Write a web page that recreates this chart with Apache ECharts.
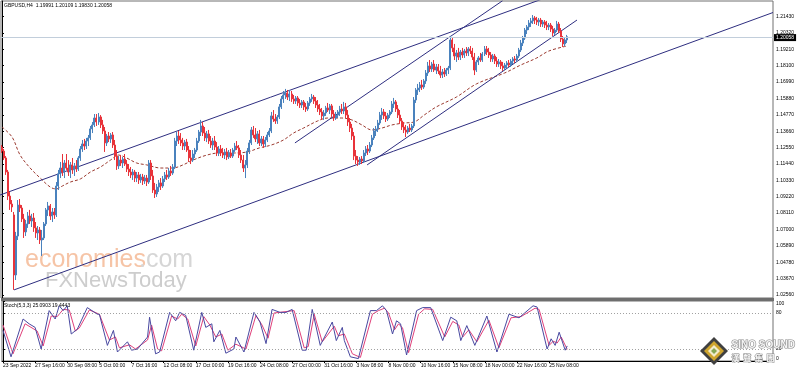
<!DOCTYPE html>
<html><head><meta charset="utf-8">
<script src="https://cdn.jsdelivr.net/npm/echarts@6/dist/echarts.min.js"></script>
<style>html,body{margin:0;padding:0;background:#fff}#c{width:798px;height:372px}</style>
</head><body><div id="c"></div>
<script>
// ---- data (GBPUSD H4) ----
const timeLabels = ['23 Sep 2022','27 Sep 16:00','30 Sep 08:00','5 Oct 00:00','7 Oct 16:00','12 Oct 08:00','17 Oct 00:00','19 Oct 16:00','24 Oct 08:00','27 Oct 00:00','31 Oct 16:00','3 Nov 08:00','8 Nov 00:00','10 Nov 16:00','15 Nov 08:00','18 Nov 00:00','22 Nov 16:00','25 Nov 08:00'];
const priceTicks = [1.02560,1.03670,1.04780,1.05890,1.07000,1.08110,1.09220,1.10330,1.11440,1.12550,1.13660,1.14770,1.15880,1.16990,1.18100,1.19210,1.20320,1.21430];
const stochTicks = [0,20,80,100];
const stochLevels = [20,80];
const bidPrice = 1.20058;

const open = [
1.1258,1.1231,1.1184,1.1089,1.0926,1.0872,1.0798,1.0391,1.0655,1.0865,
1.0845,1.0771,1.0683,1.0737,1.0791,1.0757,1.0777,1.0710,1.0676,1.0696,
1.0628,1.0642,1.0737,1.0832,1.0859,1.0791,1.0818,1.0798,1.0994,1.1076,
1.1116,1.1089,1.1150,1.1116,1.1089,1.1137,1.1103,1.1130,1.1109,1.1184,
1.1245,1.1279,1.1265,1.1299,1.1320,1.1381,1.1408,1.1455,1.1428,1.1462,
1.1408,1.1367,1.1286,1.1333,1.1313,1.1340,1.1272,1.1197,1.1130,1.1170,
1.1150,1.1177,1.1143,1.1109,1.1089,1.1069,1.1089,1.1048,1.1069,1.1035,
1.1055,1.1028,1.1048,1.1021,1.1150,1.1062,1.0967,1.0940,1.0987,1.1015,
1.0994,1.1042,1.1069,1.1055,1.1096,1.1082,1.1123,1.1299,1.1333,1.1306,
1.1286,1.1265,1.1292,1.1238,1.1184,1.1170,1.1211,1.1238,1.1299,1.1360,
1.1401,1.1353,1.1320,1.1347,1.1299,1.1272,1.1299,1.1258,1.1218,1.1245,
1.1218,1.1204,1.1225,1.1191,1.1218,1.1197,1.1238,1.1265,1.1252,1.1204,
1.1170,1.1116,1.1137,1.1231,1.1286,1.1374,1.1340,1.1313,1.1347,1.1286,
1.1313,1.1279,1.1306,1.1340,1.1367,1.1469,1.1448,1.1435,1.1462,1.1530,
1.1584,1.1611,1.1625,1.1597,1.1618,1.1584,1.1570,1.1591,1.1557,1.1543,
1.1564,1.1530,1.1516,1.1557,1.1584,1.1597,1.1570,1.1543,1.1516,1.1496,
1.1469,1.1489,1.1523,1.1509,1.1537,1.1482,1.1455,1.1475,1.1496,1.1516,
1.1503,1.1530,1.1475,1.1428,1.1387,1.1333,1.1197,1.1170,1.1157,1.1177,
1.1164,1.1218,1.1245,1.1231,1.1272,1.1320,1.1367,1.1381,1.1421,1.1475,
1.1496,1.1469,1.1448,1.1475,1.1496,1.1550,1.1564,1.1516,1.1475,1.1435,
1.1394,1.1374,1.1360,1.1387,1.1374,1.1401,1.1577,1.1645,1.1658,1.1679,
1.1665,1.1706,1.1760,1.1808,1.1787,1.1821,1.1780,1.1801,1.1774,1.1746,
1.1767,1.1753,1.1780,1.1794,1.1984,1.1930,1.1875,1.1896,1.1868,1.1902,
1.1882,1.1909,1.1896,1.1923,1.1909,1.1868,1.1780,1.1835,1.1862,1.1848,
1.1889,1.1923,1.1902,1.1882,1.1855,1.1875,1.1841,1.1821,1.1835,1.1808,
1.1794,1.1814,1.1828,1.1814,1.1841,1.1855,1.1848,1.1875,1.1916,1.1963,
1.1997,1.2051,1.2072,1.2099,1.2113,1.2133,1.2119,1.2106,1.2119,1.2092,
1.2106,1.2085,1.2072,1.2085,1.2058,1.2031,1.2051,1.2092,1.2045,1.1990,
1.1957,1.1984];
const high = [
1.1272,1.1245,1.1197,1.1103,1.0954,1.0899,1.0818,1.0683,1.0899,1.0906,
1.0865,1.0805,1.0764,1.0818,1.0832,1.0805,1.0811,1.0750,1.0723,1.0716,
1.0696,1.0750,1.0845,1.0886,1.0872,1.0845,1.0845,1.1021,1.1103,1.1157,
1.1211,1.1170,1.1211,1.1170,1.1157,1.1184,1.1150,1.1170,1.1197,1.1265,
1.1306,1.1313,1.1320,1.1340,1.1401,1.1428,1.1482,1.1482,1.1489,1.1475,
1.1442,1.1394,1.1347,1.1360,1.1353,1.1360,1.1306,1.1238,1.1197,1.1204,
1.1191,1.1211,1.1170,1.1143,1.1123,1.1109,1.1103,1.1089,1.1089,1.1076,
1.1076,1.1069,1.1069,1.1170,1.1170,1.1103,1.1015,1.1008,1.1035,1.1048,
1.1062,1.1089,1.1103,1.1116,1.1130,1.1143,1.1320,1.1360,1.1367,1.1353,
1.1320,1.1306,1.1313,1.1265,1.1238,1.1238,1.1252,1.1320,1.1374,1.1442,
1.1428,1.1394,1.1367,1.1374,1.1333,1.1320,1.1333,1.1292,1.1265,1.1272,
1.1252,1.1245,1.1252,1.1238,1.1245,1.1252,1.1286,1.1299,1.1272,1.1238,
1.1204,1.1170,1.1252,1.1306,1.1394,1.1401,1.1387,1.1367,1.1374,1.1333,
1.1333,1.1326,1.1360,1.1387,1.1496,1.1509,1.1482,1.1475,1.1550,1.1604,
1.1638,1.1652,1.1645,1.1645,1.1638,1.1611,1.1604,1.1604,1.1584,1.1577,
1.1577,1.1557,1.1570,1.1597,1.1618,1.1611,1.1597,1.1577,1.1550,1.1523,
1.1509,1.1537,1.1557,1.1550,1.1550,1.1509,1.1496,1.1509,1.1537,1.1550,
1.1564,1.1557,1.1509,1.1455,1.1415,1.1360,1.1238,1.1197,1.1191,1.1197,
1.1238,1.1265,1.1272,1.1292,1.1340,1.1387,1.1401,1.1442,1.1496,1.1523,
1.1516,1.1496,1.1489,1.1509,1.1570,1.1591,1.1577,1.1543,1.1509,1.1455,
1.1428,1.1408,1.1401,1.1415,1.1415,1.1597,1.1658,1.1686,1.1699,1.1713,
1.1719,1.1780,1.1835,1.1848,1.1835,1.1848,1.1821,1.1821,1.1808,1.1787,
1.1794,1.1794,1.1808,1.2011,1.1997,1.1957,1.1916,1.1930,1.1916,1.1930,
1.1923,1.1936,1.1936,1.1943,1.1930,1.1896,1.1848,1.1875,1.1896,1.1902,
1.1943,1.1943,1.1930,1.1902,1.1889,1.1889,1.1868,1.1855,1.1848,1.1835,
1.1828,1.1841,1.1848,1.1855,1.1868,1.1875,1.1889,1.1930,1.1984,1.2011,
1.2065,1.2085,1.2119,1.2133,1.2153,1.2146,1.2140,1.2133,1.2133,1.2119,
1.2119,1.2113,1.2099,1.2099,1.2079,1.2065,1.2113,1.2106,1.2065,1.2011,
1.1997,1.2018];
const low = [
1.1218,1.1170,1.1069,1.0899,1.0832,1.0818,1.0290,1.0357,1.0628,1.0818,
1.0750,1.0642,1.0655,1.0710,1.0737,1.0716,1.0683,1.0642,1.0628,1.0601,
1.0520,1.0628,1.0723,1.0791,1.0764,1.0750,1.0771,1.0784,1.0967,1.1048,
1.1062,1.1048,1.1103,1.1062,1.1048,1.1076,1.1062,1.1089,1.1096,1.1164,
1.1225,1.1238,1.1245,1.1265,1.1306,1.1353,1.1394,1.1401,1.1408,1.1387,
1.1347,1.1225,1.1265,1.1292,1.1286,1.1252,1.1170,1.1103,1.1109,1.1130,
1.1116,1.1130,1.1089,1.1062,1.1048,1.1035,1.1021,1.1021,1.1008,1.1015,
1.1001,1.1008,1.0994,1.1008,1.1035,1.0947,1.0913,1.0920,1.0954,1.0967,
1.0981,1.1021,1.1035,1.1042,1.1062,1.1069,1.1109,1.1265,1.1279,1.1265,
1.1238,1.1238,1.1225,1.1157,1.1143,1.1157,1.1184,1.1225,1.1286,1.1333,
1.1333,1.1299,1.1292,1.1279,1.1252,1.1238,1.1238,1.1197,1.1197,1.1197,
1.1184,1.1177,1.1170,1.1177,1.1184,1.1184,1.1225,1.1238,1.1184,1.1150,
1.1089,1.1048,1.1116,1.1211,1.1272,1.1320,1.1292,1.1279,1.1265,1.1265,
1.1252,1.1258,1.1292,1.1326,1.1353,1.1428,1.1415,1.1415,1.1448,1.1516,
1.1557,1.1584,1.1577,1.1570,1.1564,1.1550,1.1550,1.1537,1.1523,1.1523,
1.1509,1.1496,1.1503,1.1537,1.1564,1.1550,1.1523,1.1496,1.1475,1.1442,
1.1442,1.1469,1.1496,1.1482,1.1462,1.1435,1.1442,1.1455,1.1469,1.1482,
1.1482,1.1455,1.1401,1.1360,1.1306,1.1170,1.1143,1.1130,1.1137,1.1143,
1.1150,1.1197,1.1204,1.1218,1.1258,1.1306,1.1333,1.1360,1.1408,1.1442,
1.1448,1.1428,1.1435,1.1455,1.1482,1.1523,1.1496,1.1455,1.1415,1.1374,
1.1353,1.1326,1.1347,1.1360,1.1360,1.1387,1.1557,1.1611,1.1631,1.1645,
1.1652,1.1686,1.1740,1.1767,1.1767,1.1767,1.1753,1.1753,1.1726,1.1726,
1.1733,1.1740,1.1753,1.1780,1.1902,1.1848,1.1835,1.1848,1.1848,1.1862,
1.1862,1.1875,1.1875,1.1889,1.1848,1.1746,1.1767,1.1814,1.1835,1.1835,
1.1875,1.1882,1.1862,1.1835,1.1835,1.1821,1.1801,1.1801,1.1787,1.1774,
1.1780,1.1794,1.1801,1.1801,1.1821,1.1828,1.1835,1.1862,1.1902,1.1943,
1.1984,1.2024,1.2051,1.2072,1.2092,1.2092,1.2085,1.2079,1.2072,1.2072,
1.2065,1.2051,1.2051,1.2038,1.2011,1.2018,1.2038,1.2031,1.1970,1.1936,
1.1943,1.1963];
const close = [
1.1231,1.1184,1.1089,1.0926,1.0872,1.0852,1.0391,1.0655,1.0865,1.0845,
1.0771,1.0683,1.0737,1.0791,1.0757,1.0777,1.0710,1.0676,1.0696,1.0628,
1.0642,1.0737,1.0832,1.0859,1.0791,1.0818,1.0798,1.0994,1.1076,1.1116,
1.1089,1.1150,1.1116,1.1089,1.1137,1.1103,1.1130,1.1109,1.1184,1.1245,
1.1279,1.1265,1.1299,1.1320,1.1381,1.1408,1.1455,1.1428,1.1462,1.1408,
1.1367,1.1286,1.1333,1.1313,1.1340,1.1272,1.1197,1.1130,1.1170,1.1150,
1.1177,1.1143,1.1109,1.1089,1.1069,1.1089,1.1048,1.1069,1.1035,1.1055,
1.1028,1.1048,1.1021,1.1150,1.1062,1.0967,1.0940,1.0987,1.1015,1.0994,
1.1042,1.1069,1.1055,1.1096,1.1082,1.1123,1.1299,1.1333,1.1306,1.1286,
1.1265,1.1292,1.1238,1.1184,1.1170,1.1211,1.1238,1.1299,1.1360,1.1401,
1.1353,1.1320,1.1347,1.1299,1.1272,1.1299,1.1258,1.1218,1.1245,1.1218,
1.1204,1.1225,1.1191,1.1218,1.1197,1.1238,1.1265,1.1252,1.1204,1.1170,
1.1116,1.1137,1.1231,1.1286,1.1374,1.1340,1.1313,1.1347,1.1286,1.1313,
1.1279,1.1306,1.1340,1.1367,1.1469,1.1448,1.1435,1.1462,1.1530,1.1584,
1.1611,1.1625,1.1597,1.1618,1.1584,1.1570,1.1591,1.1557,1.1543,1.1564,
1.1530,1.1516,1.1557,1.1584,1.1597,1.1570,1.1543,1.1516,1.1496,1.1469,
1.1489,1.1523,1.1509,1.1537,1.1482,1.1455,1.1475,1.1496,1.1516,1.1503,
1.1530,1.1475,1.1428,1.1387,1.1333,1.1197,1.1170,1.1157,1.1177,1.1164,
1.1218,1.1245,1.1231,1.1272,1.1320,1.1367,1.1381,1.1421,1.1475,1.1496,
1.1469,1.1448,1.1475,1.1496,1.1550,1.1564,1.1516,1.1475,1.1435,1.1394,
1.1374,1.1360,1.1387,1.1374,1.1401,1.1577,1.1645,1.1658,1.1679,1.1665,
1.1706,1.1760,1.1808,1.1787,1.1821,1.1780,1.1801,1.1774,1.1746,1.1767,
1.1753,1.1780,1.1794,1.1984,1.1930,1.1875,1.1896,1.1868,1.1902,1.1882,
1.1909,1.1896,1.1923,1.1909,1.1868,1.1780,1.1835,1.1862,1.1848,1.1889,
1.1923,1.1902,1.1882,1.1855,1.1875,1.1841,1.1821,1.1835,1.1808,1.1794,
1.1814,1.1828,1.1814,1.1841,1.1855,1.1848,1.1875,1.1916,1.1963,1.1997,
1.2051,1.2072,1.2099,1.2113,1.2133,1.2119,1.2106,1.2119,1.2092,1.2106,
1.2085,1.2072,1.2085,1.2058,1.2031,1.2051,1.2092,1.2045,1.1990,1.1957,
1.1984,1.2006];

// moving average, read at [bar index, price]
const maLine = [[0,1.1394],[5,1.1326],[9,1.1204],[14,1.1116],[19,1.1048],[24,1.0987],[27,1.0974],[30,1.0994],[34,1.1021],[39,1.1042],[44,1.1089],[49,1.1123],[54,1.1170],[58,1.1204],[62,1.1184],[67,1.1150],[72,1.1137],[79,1.1116],[85,1.1116],[90,1.1137],[95,1.1170],[102,1.1204],[108,1.1218],[115,1.1218],[122,1.1225],[128,1.1252],[134,1.1272],[140,1.1306],[145,1.1353],[150,1.1387],[157,1.1435],[162,1.1455],[169,1.1455],[174,1.1442],[179,1.1408],[184,1.1374],[189,1.1387],[194,1.1408],[200,1.1421],[205,1.1428],[210,1.1475],[216,1.1530],[226,1.1597],[236,1.1686],[250,1.1760],[258,1.1814],[266,1.1862],[272,1.1909],[281,1.1943]];

// trend lines [bar index, price]
const upperChannel = [[-1,1.0933],[268,1.2258]];
const lowerChannel = [[6,1.0290],[383.5,1.2170]];
const steepUpper = [[145.7,1.1286],[249,1.2250]];
const steepLower = [[181.6,1.1137],[286,1.2119]];

// Stochastic (5,3,3) turning points [bar index, value]
const stochK = [[0,51],[4,7],[10,70],[13,62],[16,56],[19,20],[23,84],[26,70],[28,92],[30,84],[32,92],[34,45],[37,53],[42,89],[47,78],[48,78],[52,26],[55,51],[57,15],[62,32],[64,18],[67,20],[72,40],[73,73],[76,12],[78,15],[83,81],[86,67],[88,81],[91,76],[95,18],[99,81],[101,56],[104,62],[105,32],[108,51],[111,13],[115,20],[116,40],[120,15],[125,81],[128,65],[131,29],[134,86],[138,81],[141,81],[144,86],[149,18],[151,18],[154,86],[158,26],[164,65],[166,34],[169,56],[170,34],[173,7],[177,4],[183,84],[186,84],[189,92],[191,84],[194,45],[196,67],[198,62],[201,10],[206,84],[209,89],[213,89],[219,34],[223,73],[226,67],[228,34],[231,59],[235,26],[241,75],[246,15],[252,78],[257,72],[264,92],[266,90],[271,20],[273,37],[275,26],[277,48],[280,18],[281,25.09]];
const stochD = [[0,60],[5,12],[11,62],[17,50],[20,25],[24,75],[27,74],[30,86],[33,85],[36,50],[38,55],[43,85],[48,78],[53,35],[56,40],[58,22],[63,27],[66,20],[72,35],[74,60],[77,20],[79,17],[84,75],[87,70],[89,78],[92,70],[96,25],[100,74],[103,60],[106,40],[109,45],[112,18],[116,28],[121,20],[126,76],[129,60],[132,38],[135,80],[140,82],[145,84],[150,22],[152,24],[155,78],[159,32],[165,58],[167,42],[170,45],[174,12],[178,6],[184,78],[187,84],[190,88],[192,80],[195,52],[197,62],[199,55],[202,14],[207,78],[210,87],[214,86],[220,40],[224,66],[227,60],[229,40],[232,52],[236,32],[242,68],[247,22],[253,72],[258,74],[265,88],[267,86],[272,26],[274,33],[276,30],[278,40],[281,19.44]];

// ---- chart ----
const N = 384;
const cats = Array.from({length: N}, (_, i) => String(i));
const candles = open.map((o, i) => [o, close[i], low[i], high[i]]);
const showTick = (idx) => idx % 16 === 0 && idx / 16 < timeLabels.length;
const FONT = 'Liberation Sans';
const chart = echarts.init(document.getElementById('c'), null, {renderer: 'canvas'});
const lineCol = '#2e2e80';
function trend(d) {
  return {type: 'line', xAxisIndex: 2, yAxisIndex: 0, data: d, symbol: 'none', silent: true,
    lineStyle: {color: lineCol, width: 1}, z: 3, clip: true};
}
chart.setOption({
  animation: false,
  backgroundColor: '#fff',
  grid: [
    {left: 1, right: 25, top: 1, height: 297, show: true, borderColor: '#707070', borderWidth: 1, backgroundColor: 'transparent'},
    {left: 1, right: 25, top: 301, height: 60, show: true, borderColor: '#707070', borderWidth: 1, backgroundColor: 'transparent'}
  ],
  xAxis: [
    {type: 'category', gridIndex: 0, data: cats, boundaryGap: true, axisLine: {show: false}, axisTick: {show: false}, axisLabel: {show: false}, splitLine: {show: false}},
    {type: 'category', gridIndex: 1, data: cats, boundaryGap: true,
      axisLine: {show: true, lineStyle: {color: '#000', width: 1}},
      axisTick: {show: true, alignWithLabel: true, interval: showTick, length: 2, lineStyle: {color: '#000'}},
      axisLabel: {show: true, interval: showTick, formatter: (v, idx) => timeLabels[idx / 16] || '', align: 'left', margin: 2, fontSize: 5, fontFamily: FONT, color: '#000'},
      splitLine: {show: false}},
    {type: 'value', gridIndex: 0, min: -0.5, max: N - 0.5, show: false},
    {type: 'value', gridIndex: 1, min: -0.5, max: N - 0.5, show: false}
  ],
  yAxis: [
    {type: 'value', gridIndex: 0, position: 'right', min: 1.0235, max: 1.2248, scale: true,
      axisLine: {show: true, lineStyle: {color: '#000'}},
      axisTick: {show: true, length: 2, customValues: priceTicks, lineStyle: {color: '#000'}},
      axisLabel: {show: true, customValues: priceTicks, formatter: (v) => v.toFixed(5), margin: 3, fontSize: 5, fontFamily: FONT, color: '#000'},
      splitLine: {show: false}},
    {type: 'value', gridIndex: 1, position: 'right', min: 0, max: 100,
      axisLine: {show: true, lineStyle: {color: '#000'}},
      axisTick: {show: true, length: 2, customValues: stochTicks, lineStyle: {color: '#000'}},
      axisLabel: {show: true, customValues: stochTicks, margin: 3, fontSize: 5, fontFamily: FONT, color: '#000', verticalAlignMaxLabel: 'top', verticalAlignMinLabel: 'bottom'},
      splitLine: {show: false}}
  ],
  series: [
    {type: 'candlestick', xAxisIndex: 0, yAxisIndex: 0, data: candles, barWidth: 1.5, z: 4,
      itemStyle: {color: '#4a82bd', color0: '#e8333a', borderColor: '#4a82bd', borderColor0: '#e8333a', borderWidth: 1},
      markLine: {silent: true, symbol: 'none', animation: false,
        lineStyle: {color: '#c2cedb', width: 1, type: 'solid'},
        label: {show: true, position: 'end', formatter: bidPrice.toFixed(5), backgroundColor: '#000', color: '#fff', fontSize: 5, fontFamily: FONT, padding: [1, 2, 1, 2], distance: 1},
        data: [{yAxis: bidPrice}]}},
    {type: 'line', xAxisIndex: 2, yAxisIndex: 0, data: maLine, symbol: 'none', smooth: 0.35, silent: true, z: 3,
      lineStyle: {color: '#9c3a30', width: 1, type: [3, 2]}},
    trend(upperChannel), trend(lowerChannel), trend(steepUpper), trend(steepLower),
    {type: 'line', xAxisIndex: 3, yAxisIndex: 1, data: stochD, symbol: 'none', silent: true, z: 3,
      lineStyle: {color: '#e0407a', width: 1},
      markLine: {silent: true, symbol: 'none', label: {show: false}, lineStyle: {color: '#a0a0a0', width: 1, type: [1, 2]}, data: stochLevels.map(v => ({yAxis: v}))}},
    {type: 'line', xAxisIndex: 3, yAxisIndex: 1, data: stochK, symbol: 'none', silent: true, z: 4,
      lineStyle: {color: '#4848a0', width: 1}}
  ],
  graphic: [
    {type: 'rect', left: 1, top: 298, shape: {width: 773, height: 3}, style: {fill: '#6e6e6e'}, z: 10},
    {type: 'text', left: 4, top: 3, style: {text: 'GBPUSD,H4  1.19991 1.20109 1.19830 1.20058', fontSize: 5, fontFamily: FONT, fill: '#000'}, z: 10},
    {type: 'text', left: 4, top: 303, style: {text: 'Stoch(5,3,3) 25.0903 19.4443', fontSize: 5, fontFamily: FONT, fill: '#000'}, z: 10},
    {type: 'text', left: 25, top: 248, style: {text: 'economies', fontSize: 25, fontFamily: FONT, fill: '#f6c4a6'}, z: 1},
    {type: 'text', left: 139, top: 248, style: {text: '.com', fontSize: 25, fontFamily: FONT, fill: '#d6d6d6'}, z: 1},
    {type: 'text', left: 45, top: 270, style: {text: 'FXNewsToday', fontSize: 22, fontFamily: FONT, fill: '#cdcdcd'}, z: 1},
    {type: 'polygon', shape: {points: [[714, 337], [728, 351], [714, 365], [700, 351]]}, style: {fill: '#404040'}, z: 10},
    {type: 'polygon', shape: {points: [[714, 341], [724, 351], [714, 361], [704, 351]]}, style: {fill: '#cfa52e'}, z: 10},
    {type: 'polygon', shape: {points: [[714, 345], [720, 351], [714, 357], [708, 351]]}, style: {fill: '#f2ebcc'}, z: 10},
    {type: 'polygon', shape: {points: [[714, 348], [717, 351], [714, 354], [711, 351]]}, style: {fill: '#86a852'}, z: 10},
    {type: 'text', left: 731, top: 340, style: {text: 'SINO SOUND', fontSize: 10, fontWeight: 'bold', fontFamily: FONT, fill: '#f4f4f4', stroke: '#8a8a8a', lineWidth: 1.2}, z: 10},
    {type: 'text', left: 731, top: 353, style: {text: '漢  聲  集  團', fontSize: 8, fontWeight: 'bold', fontFamily: 'Noto Sans CJK TC', fill: '#f4f4f4', stroke: '#8a8a8a', lineWidth: 1}, z: 10}
  ]
});
</script>
</body></html>
